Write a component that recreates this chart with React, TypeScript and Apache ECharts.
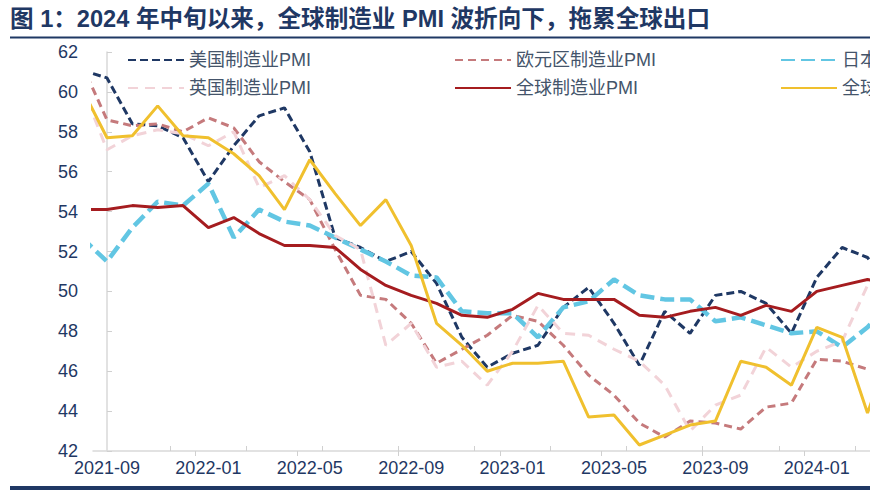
import React, { useEffect, useRef } from "react";
import * as echarts from "echarts";

// Months (index 0 = 2021-08, plotted at x = -1; 2021-09 at x = 0)
const months = [
  "2021-08", "2021-09", "2021-10", "2021-11", "2021-12",
  "2022-01", "2022-02", "2022-03", "2022-04", "2022-05", "2022-06",
  "2022-07", "2022-08", "2022-09", "2022-10", "2022-11", "2022-12",
  "2023-01", "2023-02", "2023-03", "2023-04", "2023-05", "2023-06",
  "2023-07", "2023-08", "2023-09", "2023-10", "2023-11", "2023-12",
  "2024-01", "2024-02", "2024-03", "2024-04",
];

const usPMI = [61.1, 60.7, 58.4, 58.3, 57.7, 55.5, 57.3, 58.8, 59.2, 57.0, 52.7, 52.2, 51.5, 52.0, 50.4, 47.7, 46.2, 46.9, 47.3, 49.2, 50.2, 48.4, 46.3, 49.0, 47.9, 49.8, 50.0, 49.4, 47.9, 50.7, 52.2, 51.7, 50.0];
const euroPMI = [61.4, 58.6, 58.3, 58.4, 58.0, 58.7, 58.2, 56.5, 55.5, 54.6, 52.1, 49.8, 49.6, 48.4, 46.4, 47.1, 47.8, 48.8, 48.5, 47.3, 45.8, 44.8, 43.4, 42.7, 43.5, 43.4, 43.1, 44.2, 44.4, 46.6, 46.5, 46.1, 45.7];
const japanPMI = [52.7, 51.5, 53.2, 54.5, 54.3, 55.4, 52.7, 54.1, 53.5, 53.3, 52.7, 52.1, 51.5, 50.8, 50.7, 49.0, 48.9, 48.9, 47.7, 49.2, 49.5, 50.6, 49.8, 49.6, 49.6, 48.5, 48.7, 48.3, 47.9, 48.0, 47.2, 48.2, 49.6];
const ukPMI = [60.3, 57.1, 57.8, 58.1, 57.9, 57.3, 58.0, 55.2, 55.8, 54.6, 52.8, 52.1, 47.3, 48.4, 46.2, 46.5, 45.3, 47.0, 49.3, 47.9, 47.8, 47.1, 46.5, 45.3, 43.0, 44.3, 44.8, 47.2, 46.2, 47.0, 47.5, 50.3, 49.1];
const globalPMI = [54.1, 54.1, 54.3, 54.2, 54.3, 53.2, 53.7, 52.9, 52.3, 52.3, 52.2, 51.1, 50.3, 49.8, 49.4, 48.8, 48.7, 49.1, 49.9, 49.6, 49.6, 49.6, 48.8, 48.7, 49.0, 49.2, 48.8, 49.3, 49.0, 50.0, 50.3, 50.6, 50.3];
const globalExportPMI = [60.2, 57.7, 57.8, 59.3, 57.8, 57.7, 56.9, 55.8, 54.1, 56.6, 54.9, 53.3, 54.6, 52.3, 48.4, 47.3, 46.0, 46.4, 46.4, 46.5, 43.7, 43.8, 42.3, 42.8, 43.3, 43.5, 46.5, 46.2, 45.3, 48.2, 47.7, 43.9, 47.5];

const seriesNames = [
  "美国制造业PMI",
  "欧元区制造业PMI",
  "日本制造业PMI",
  "英国制造业PMI",
  "全球制造业PMI",
  "全球制造业PMI:新出口订单",
];

// x positions of labels / ticks (month offsets from 2021-09)
const labelValues = [0, 4, 8, 12, 16, 20, 24, 28];
const outerTicks = [3.5, 7.5, 11.5, 15.5, 19.5, 23.5, 27.5];
const innerTicks = [2.5, 5.5, 8.5, 11.5, 14.5, 17.5, 20.5, 23.5, 26.5, 29.5];

const NAVY = "#1f3864";
const FONT = "Arial, 'Liberation Sans', 'Noto Sans CJK SC', sans-serif";

export default function App() {
  const ref = useRef<HTMLDivElement>(null);

  useEffect(() => {
    const chart = echarts.init(ref.current!, null, { renderer: "svg" });
    const toPairs = (arr: number[]) => arr.map((v, k) => [k - 1, v]);
    const X_MIN = -0.552;
    const X_MAX = 31;

    const styles = [
      { color: "#1f3864", width: 3, type: [8, 4] },
      { color: "#c57a7c", width: 3, type: [8, 5] },
      { color: "#62c6e3", width: 4.5, type: [14, 6] },
      { color: "#f2d3d8", width: 3, type: [10, 7] },
      { color: "#a51c1f", width: 3, type: "solid" },
      { color: "#f0c02e", width: 3, type: "solid" },
    ];
    const dataArr = [usPMI, euroPMI, japanPMI, ukPMI, globalPMI, globalExportPMI];

    const legendCommon = {
      orient: "vertical" as const,
      top: 51,
      padding: 0,
      itemGap: 10,
      itemWidth: 56,
      itemHeight: 20,
      itemStyle: { opacity: 0 },
      textStyle: { fontSize: 18, color: "#44546a", fontFamily: FONT },
    };

    chart.setOption({
      animation: false,
      backgroundColor: "#ffffff",
      textStyle: { fontFamily: FONT },
      title: {
        text: "图 1：2024 年中旬以来，全球制造业 PMI 波折向下，拖累全球出口",
        left: 10,
        top: 7,
        padding: 0,
        textStyle: { fontSize: 23.6, fontWeight: "bold", color: NAVY, fontFamily: FONT },
      },
      legend: [
        { ...legendCommon, left: 127, data: [seriesNames[0], seriesNames[3]] },
        { ...legendCommon, left: 454, data: [seriesNames[1], seriesNames[4]] },
        { ...legendCommon, left: 780, data: [seriesNames[2], seriesNames[5]] },
      ],
      grid: { left: 93, top: 52, right: 107.15, bottom: 41, containLabel: false },
      xAxis: [
        {
          type: "value",
          min: X_MIN,
          max: X_MAX,
          axisLine: { show: true, onZero: false, lineStyle: { color: "#d9d9d9", width: 1.5 } },
          axisTick: { show: true, inside: false, length: 5, customValues: outerTicks, lineStyle: { color: "#d0d0d0" } },
          axisLabel: {
            customValues: labelValues,
            formatter: (v: number) => months[Math.round(v) + 1],
            fontSize: 18,
            color: NAVY,
            margin: 8,
            fontFamily: FONT,
          },
          splitLine: { show: false },
        },
        {
          type: "value",
          min: X_MIN,
          max: X_MAX,
          position: "bottom",
          axisLine: { show: false },
          axisTick: { show: true, inside: true, length: 5, customValues: innerTicks, lineStyle: { color: "#d0d0d0" } },
          axisLabel: { show: false },
          splitLine: { show: false },
        },
      ],
      yAxis: {
        type: "value",
        min: 42,
        max: 62,
        interval: 2,
        axisLine: { show: true, lineStyle: { color: "#d9d9d9", width: 1.5 } },
        axisTick: { show: true, inside: true, length: 5, lineStyle: { color: "#d0d0d0" } },
        axisLabel: { fontSize: 18, color: NAVY, margin: 15, fontFamily: FONT },
        splitLine: { show: false },
      },
      graphic: [
        { type: "line", shape: { x1: 10, y1: 37.5, x2: 1000, y2: 37.5 }, style: { stroke: NAVY, lineWidth: 2 } },
        { type: "line", shape: { x1: 10, y1: 488, x2: 1000, y2: 488 }, style: { stroke: NAVY, lineWidth: 4 } },
      ],
      series: seriesNames.map((name, idx) => ({
        name,
        type: "line",
        xAxisIndex: 0,
        data: toPairs(dataArr[idx]),
        symbol: "none",
        clip: true,
        lineStyle: { color: styles[idx].color, width: styles[idx].width, type: styles[idx].type },
        itemStyle: { color: styles[idx].color },
      })),
    });

    return () => chart.dispose();
  }, []);

  return (
    <div
      style={{
        position: "fixed",
        left: 0,
        top: 0,
        width: 870,
        height: 492,
        overflow: "hidden",
        background: "#ffffff",
      }}
    >
      <div ref={ref} style={{ width: 1000, height: 492 }} />
    </div>
  );
}
